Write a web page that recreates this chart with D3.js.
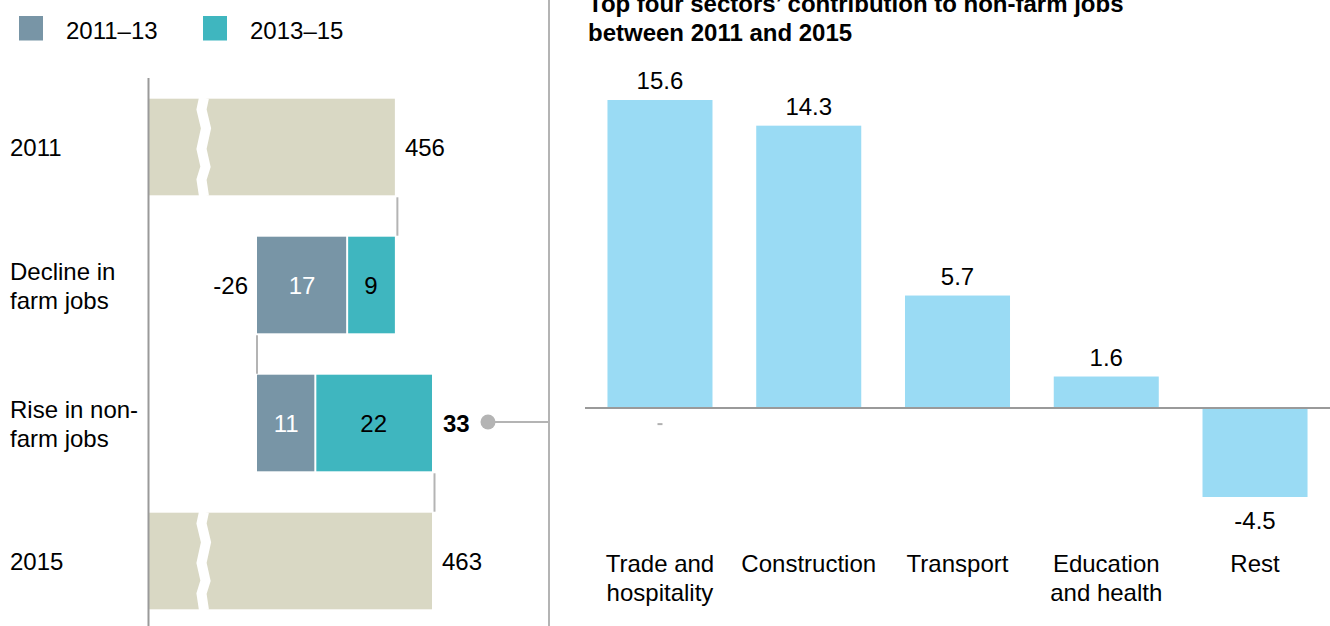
<!DOCTYPE html>
<html>
<head>
<meta charset="utf-8">
<script src="https://cdn.jsdelivr.net/npm/d3@7"></script>
<style>
  body { margin: 0; background: #fff; }
  svg text { font-family: "Liberation Sans", Arial, sans-serif; fill: #000; }
</style>
</head>
<body>
<div id="chart"></div>
<script>
// data
const legendLabels = ["2011–13", "2013–15"];
const rowKeys = ["2011", "decline", "rise", "2015"];
const rowLabels = [["2011"], ["Decline in", "farm jobs"], ["Rise in non-", "farm jobs"], ["2015"]];
const startTotal = 456;
const endTotal = 463;
const declineParts = [17, 9];   // 2011–13, 2013–15
const riseParts = [11, 22];
const titleLines = ["Top four sectors’ contribution to non-farm jobs", "between 2011 and 2015"];
const sectorLabels = [["Trade and", "hospitality"], ["Construction"], ["Transport"], ["Education", "and health"], ["Rest"]];
const sectorValues = [15.6, 14.3, 5.7, 1.6, -4.5];

const W = 1330, H = 626;
const colors = { grey: "#7895a6", teal: "#3fb6bf", total: "#d9d8c4", bar: "#9adbf4", rule: "#b4b4b4", axis: "#9a9a9a" };
const fontSize = 24;

const svg = d3.select("#chart").append("svg")
  .attr("width", W)
  .attr("height", H);

// ---------- left panel: waterfall ----------
const axisX = 149;
const declineTotal = d3.sum(declineParts);
const riseTotal = d3.sum(riseParts);
const low = startTotal - declineTotal;

const x = d3.scaleLinear().domain([low, endTotal]).range([257, 432]);
const y = d3.scaleBand().domain(rowKeys).range([78, 630]).paddingInner(0.3).paddingOuter(0.15);
const bw = y.bandwidth();

// legend
const legend = svg.append("g");
legendLabels.forEach((l, i) => {
  const lx = i === 0 ? 19 : 203;
  legend.append("rect")
    .attr("x", lx).attr("y", 16).attr("width", 24).attr("height", 24.5)
    .attr("fill", i === 0 ? colors.grey : colors.teal);
  legend.append("text")
    .attr("x", lx + 47).attr("y", 38.5)
    .attr("font-size", fontSize)
    .text(l);
});

// row labels
rowLabels.forEach((lines, i) => {
  const cy = y(rowKeys[i]) + bw / 2;
  const t = svg.append("text").attr("font-size", fontSize);
  lines.forEach((ln, j) => {
    t.append("tspan")
      .attr("x", 10)
      .attr("y", cy + 9 + (j - (lines.length - 1) / 2) * 29)
      .text(ln);
  });
});

// totals with axis break
const totals = [{ key: "2011", value: startTotal }, { key: "2015", value: endTotal }];
svg.selectAll(".total").data(totals).join("rect")
  .attr("class", "total")
  .attr("x", axisX)
  .attr("y", d => y(d.key))
  .attr("width", d => x(d.value) - axisX)
  .attr("height", bw)
  .attr("fill", colors.total);

const zig = [[0.5, 0], [-2, 0.12], [2.5, 0.31], [-2, 0.52], [2, 0.7], [-2, 0.83], [0.5, 1]];
totals.forEach(d => {
  const top = y(d.key);
  svg.append("path")
    .attr("d", d3.line()(zig.map(([dx, f]) => [203.5 + dx, top - 1 + f * (bw + 2)])))
    .attr("fill", "none")
    .attr("stroke", "#fff")
    .attr("stroke-width", 10);
});

svg.selectAll(".total-label").data(totals).join("text")
  .attr("class", "total-label")
  .attr("x", d => x(d.value) + 10)
  .attr("y", d => y(d.key) + bw / 2 + 9)
  .attr("font-size", fontSize)
  .text(d => d.value);

// stacked change bars
function stackRow(key, parts) {
  let acc = low;
  const segs = parts.map((v, i) => {
    const s = { key, i, v, x0: acc, x1: acc + v };
    acc += v;
    return s;
  });
  const g = svg.append("g");
  g.selectAll("rect").data(segs).join("rect")
    .attr("x", d => x(d.x0) + (d.i > 0 ? 1 : 0))
    .attr("y", y(key))
    .attr("width", d => x(d.x1) - x(d.x0) - 1)
    .attr("height", bw)
    .attr("fill", d => d.i === 0 ? colors.grey : colors.teal);
  g.selectAll("text").data(segs).join("text")
    .attr("x", d => (x(d.x0) + x(d.x1)) / 2)
    .attr("y", y(key) + bw / 2 + 9)
    .attr("text-anchor", "middle")
    .attr("font-size", fontSize)
    .style("fill", d => d.i === 0 ? "#fff" : "#000")
    .text(d => d.v);
}
stackRow("decline", declineParts);
stackRow("rise", riseParts);

svg.append("text")
  .attr("x", x(low) - 9)
  .attr("y", y("decline") + bw / 2 + 9)
  .attr("text-anchor", "end")
  .attr("font-size", fontSize)
  .text("-" + declineTotal);

svg.append("text")
  .attr("x", x(low + riseTotal) + 11)
  .attr("y", y("rise") + bw / 2 + 9)
  .attr("font-size", fontSize)
  .attr("font-weight", "bold")
  .text(riseTotal);

// connectors
const connectors = [
  { from: "2011", to: "decline", value: startTotal, end: true },
  { from: "decline", to: "rise", value: low, end: false },
  { from: "rise", to: "2015", value: endTotal, end: true }
];
svg.selectAll(".conn").data(connectors).join("line")
  .attr("class", "conn")
  .attr("x1", d => x(d.value) + (d.end ? 2.5 : 0))
  .attr("x2", d => x(d.value) + (d.end ? 2.5 : 0))
  .attr("y1", d => y(d.from) + bw + 2)
  .attr("y2", d => y(d.to) - 1)
  .attr("stroke", colors.rule)
  .attr("stroke-width", 2);

// left axis
svg.append("line")
  .attr("x1", axisX - 0.5).attr("x2", axisX - 0.5)
  .attr("y1", 78).attr("y2", H)
  .attr("stroke", colors.axis).attr("stroke-width", 2);

// divider and pointer
const divX = 549;
svg.append("line")
  .attr("x1", divX).attr("x2", divX).attr("y1", 0).attr("y2", H)
  .attr("stroke", colors.rule).attr("stroke-width", 2);
const pointerY = y("rise") + bw / 2 - 1;
svg.append("line")
  .attr("x1", 488).attr("x2", divX).attr("y1", pointerY).attr("y2", pointerY)
  .attr("stroke", colors.rule).attr("stroke-width", 2);
svg.append("circle")
  .attr("cx", 488).attr("cy", pointerY).attr("r", 7.5)
  .attr("fill", colors.rule);

// ---------- right panel: sector bars ----------
const title = svg.append("text")
  .attr("font-size", 24)
  .attr("font-weight", "bold");
titleLines.forEach((ln, j) => {
  title.append("tspan").attr("x", 588).attr("y", 12 + j * 29).text(ln);
});

const xb = d3.scaleBand().domain(d3.range(sectorValues.length))
  .range([585, W]).paddingInner(0.294).paddingOuter(0.151);
const yv = d3.scaleLinear().domain(d3.extent(sectorValues)).range([497, 100]);

svg.selectAll(".sector").data(sectorValues).join("rect")
  .attr("class", "sector")
  .attr("x", (d, i) => xb(i))
  .attr("y", d => yv(Math.max(0, d)))
  .attr("width", xb.bandwidth())
  .attr("height", d => Math.abs(yv(d) - yv(0)))
  .attr("fill", colors.bar);

svg.append("line")
  .attr("x1", 585).attr("x2", W)
  .attr("y1", yv(0)).attr("y2", yv(0))
  .attr("stroke", colors.axis).attr("stroke-width", 2);

svg.selectAll(".sector-label").data(sectorValues).join("text")
  .attr("class", "sector-label")
  .attr("x", (d, i) => xb(i) + xb.bandwidth() / 2)
  .attr("y", d => d >= 0 ? yv(d) - 11 : yv(d) + 32)
  .attr("text-anchor", "middle")
  .attr("font-size", fontSize)
  .text(d => d.toFixed(1));

// small grey tick under first bar
svg.append("line")
  .attr("x1", xb(0) + xb.bandwidth() / 2 - 2.5)
  .attr("x2", xb(0) + xb.bandwidth() / 2 + 2.5)
  .attr("y1", yv(0) + 16).attr("y2", yv(0) + 16)
  .attr("stroke", "#b0b0b0").attr("stroke-width", 2);

sectorLabels.forEach((lines, i) => {
  const t = svg.append("text")
    .attr("font-size", fontSize)
    .attr("text-anchor", "middle");
  lines.forEach((ln, j) => {
    t.append("tspan")
      .attr("x", xb(i) + xb.bandwidth() / 2)
      .attr("y", 572 + j * 29)
      .text(ln);
  });
});
</script>
</body>
</html>
